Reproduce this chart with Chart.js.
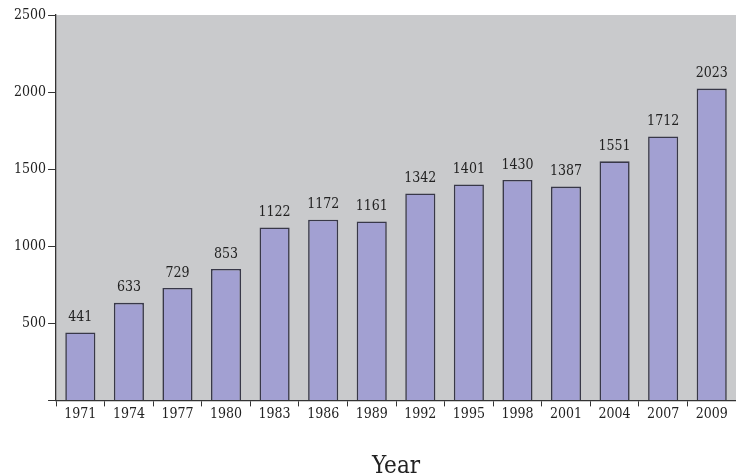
<!DOCTYPE html>
<html>
<head>
<meta charset="utf-8">
<script src="https://cdn.jsdelivr.net/npm/chart.js@4/dist/chart.umd.min.js"></script>
<style>
  html, body { margin: 0; padding: 0; background: #fff; }
  #wrap { width: 736px; height: 476px; }
</style>
</head>
<body>
<div id="wrap"><canvas id="chart"></canvas></div>
<script>
// data
const years = ['1971', '1974', '1977', '1980', '1983', '1986', '1989', '1992', '1995', '1998', '2001', '2004', '2007', '2009'];
const values = [441, 633, 729, 853, 1122, 1172, 1161, 1342, 1401, 1430, 1387, 1551, 1712, 2023];
const yTicks = [0, 500, 1000, 1500, 2000, 2500];

const serif = "'DejaVu Serif Condensed', 'Liberation Serif', serif";

// gray plot background
const plotBg = {
    id: 'plotBg',
    beforeDraw: (chart) => {
        const {ctx, chartArea} = chart;
        ctx.save();
        ctx.fillStyle = '#c9cacc';
        ctx.fillRect(chartArea.left, chartArea.top, chartArea.right - chartArea.left, chartArea.bottom - chartArea.top);
        ctx.restore();
    }
};

// number above each bar
const barLabels = {
    id: 'barLabels',
    afterDatasetsDraw: (chart) => {
        const {ctx} = chart;
        const meta = chart.getDatasetMeta(0);
        ctx.save();
        ctx.font = '14px ' + serif;
        ctx.fillStyle = '#222';
        ctx.textAlign = 'center';
        ctx.textBaseline = 'bottom';
        meta.data.forEach((bar, i) => {
            ctx.fillText(values[i], bar.x, bar.y - 8);
        });
        ctx.restore();
    }
};

new Chart(document.getElementById('chart').getContext('2d'), {
    type: 'bar',
    data: {
        labels: years,
        datasets: [{
            data: values,
            backgroundColor: '#a2a0d2',
            borderColor: '#383848',
            borderWidth: 1.6,
            borderSkipped: 'bottom',
            barPercentage: 0.62,
            categoryPercentage: 1
        }]
    },
    options: {
        responsive: true,
        maintainAspectRatio: false,
        animation: false,
        layout: { padding: { left: 12, top: 15, right: -2, bottom: 0 } },
        plugins: {
            legend: { display: false },
            tooltip: { enabled: false }
        },
        scales: {
            x: {
                grid: { display: true, drawOnChartArea: false, offset: true, color: '#333', tickLength: 6 },
                border: { display: true, color: '#333', width: 1.3 },
                ticks: { color: '#222', font: { family: serif, size: 14 }, maxRotation: 0, autoSkip: false, padding: 0 },
                title: { display: true, text: 'Year', color: '#222', font: { family: serif, size: 24 }, padding: { top: 29, bottom: -5 } }
            },
            y: {
                min: 0,
                max: 2500,
                afterBuildTicks: (axis) => { axis.ticks = yTicks.map(v => ({ value: v })); },
                grid: { display: true, drawOnChartArea: false, color: '#333', tickLength: 8 },
                border: { display: true, color: '#333', width: 1.3 },
                ticks: {
                    color: '#222',
                    font: { family: serif, size: 14 },
                    padding: 2,
                    callback: (v) => v === 0 ? '' : v
                }
            }
        }
    },
    plugins: [plotBg, barLabels]
});
</script>
</body>
</html>
